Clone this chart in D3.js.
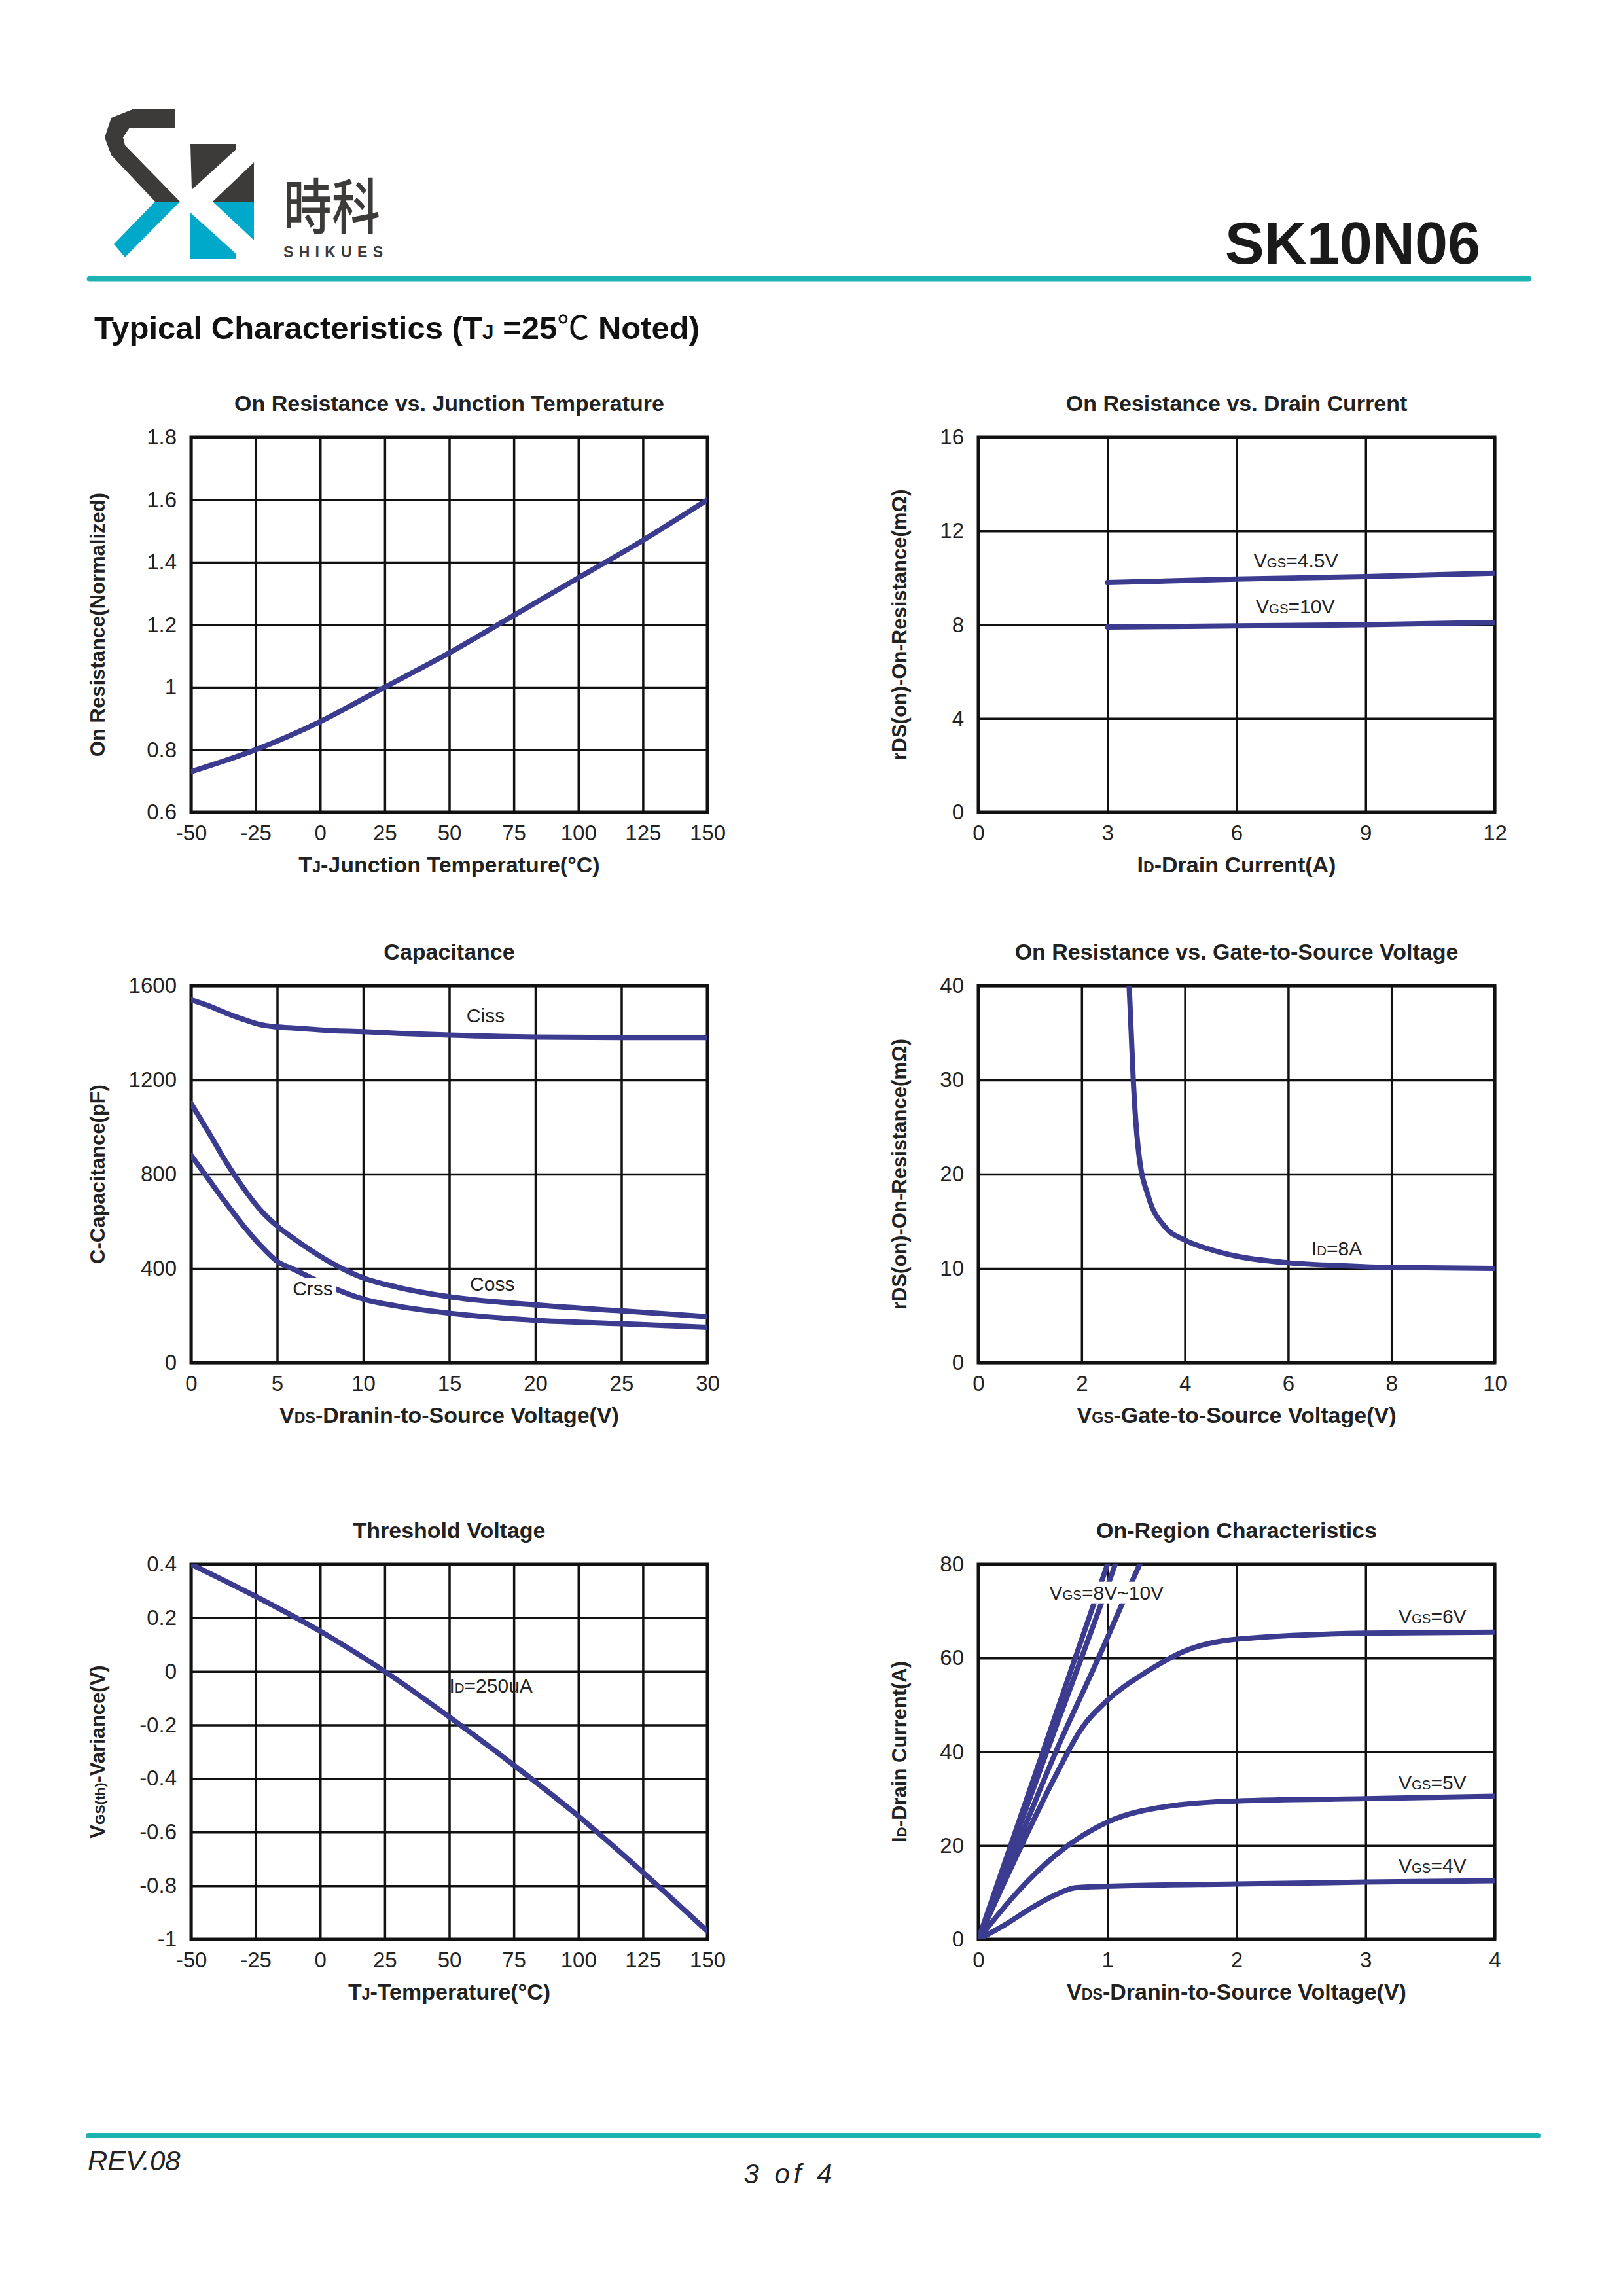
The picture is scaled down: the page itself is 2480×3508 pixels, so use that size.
<!DOCTYPE html>
<html><head><meta charset="utf-8">
<script src="https://cdn.jsdelivr.net/npm/d3@7"></script>
<style>body{margin:0;background:#fff}svg{display:block}</style>
</head><body>
<script>
// ---------- DATA ----------
const c1Temp = [-50,-25,0,25,50,75,100,125,150];
const c1Rnorm = [0.73,0.80,0.89,1.00,1.11,1.23,1.35,1.47,1.60];
const c1XTicks = [-50,-25,0,25,50,75,100,125,150];
const c1YTicks = [0.6,0.8,1,1.2,1.4,1.6,1.8];

const c2Id = [3,6,9,12];
const c2R45 = [9.8,9.95,10.05,10.2];
const c2R10 = [7.9,7.95,8.0,8.1];
const c2XTicks = [0,3,6,9,12];
const c2YTicks = [0,4,8,12,16];

const c3Vds = [0,1,2,3,4,5,6,8,10,12,15,20,25,30];
const c3Ciss = [1540,1515,1485,1458,1435,1425,1420,1410,1405,1398,1390,1382,1380,1380];
const c3Coss = [1100,980,855,745,650,580,525,430,360,320,280,245,220,195];
const c3Crss = [880,780,680,585,500,430,395,325,270,240,210,180,165,150];
const c3XTicks = [0,5,10,15,20,25,30];
const c3YTicks = [0,400,800,1200,1600];

const c4Vgs = [2.92,2.96,3.0,3.1,3.3,3.6,4.0,4.5,5,6,7,8,9,10];
const c4R = [40,35,30,22.5,17.5,14.5,13,12,11.3,10.6,10.3,10.1,10.05,10.0];
const c4XTicks = [0,2,4,6,8,10];
const c4YTicks = [0,10,20,30,40];

const c5Temp = [-50,-25,0,25,50,75,100,125,150];
const c5Dv = [0.40,0.28,0.15,0.0,-0.17,-0.35,-0.54,-0.75,-0.97];
const c5XTicks = [-50,-25,0,25,50,75,100,125,150];
const c5YTicks = [-1,-0.8,-0.6,-0.4,-0.2,0,0.2,0.4];

const c6Vds4 = [0,0.2,0.4,0.6,0.75,1,2,3,4];
const c6Id4 = [0,3,6.5,9.5,11,11.3,11.8,12.2,12.5];
const c6Vds5 = [0,0.3,0.6,0.8,1,1.5,2,3,4];
const c6Id5 = [0,10,18,22,25,28.5,29.5,30,30.5];
const c6Vds6 = [0,0.3,0.6,0.8,1,1.3,1.6,2,3,4];
const c6Id6 = [0,18,35,45,51,57,61.5,64,65.3,65.5];
const c6VdsA = [0,0.5,1.0,1.1];
const c6IdA = [0,40,80,88];
const c6VdsB = [0,0.53,1.06,1.16];
const c6IdB = [0,40,80,88];
const c6VdsC = [0,0.3,0.6,0.93,1.25,1.35];
const c6IdC = [0,20,40,60,80,86];
const c6XTicks = [0,1,2,3,4];
const c6YTicks = [0,20,40,60,80];

// ---------- PAGE ----------
const W=2480,H=3508, LINE="#3b3b8f", TXT="#222", FONT="'Liberation Sans', Arial, sans-serif";
const svg=d3.select("body").append("svg").attr("width",W).attr("height",H).attr("viewBox",`0 0 ${W} ${H}`);
svg.append("rect").attr("width",W).attr("height",H).attr("fill","#fff");

// logo
const dark="#3d3a3a", blue="#00a9c9";
const polys=[
 [dark,[[268,166],[268,195],[198,195],[188,210],[191,222],[275,308],[237,308],[170,237],[160,210],[170,180],[205,166]]],
 [blue,[[237,308],[275,308],[191,393],[174,373]]],
 [dark,[[291,220],[360,220],[361,228],[293,290]]],
 [dark,[[388,248],[388,308],[325,308]]],
 [blue,[[325,308],[388,308],[388,367]]],
 [blue,[[291,325],[361,388],[361,395],[291,395]]]
];
polys.forEach(([c,p])=>svg.append("path").attr("d",d3.line().curve(d3.curveLinearClosed)(p)).attr("fill",c));
svg.append("text").attr("x",433).attr("y",350).attr("font-family","'Noto Sans CJK SC'").attr("font-size",92).attr("font-weight",500)
  .attr("fill",dark).attr("textLength",148).attr("lengthAdjust","spacingAndGlyphs").text("時科");
svg.append("text").attr("x",433).attr("y",393).attr("font-family",FONT).attr("font-weight","bold").attr("font-size",23)
  .attr("fill",dark).attr("textLength",152).text("SHIKUES");
svg.append("text").attr("x",2262).attr("y",403).attr("text-anchor","end").attr("font-family",FONT).attr("font-weight","bold")
  .attr("font-size",90).attr("fill","#1a1a1a").text("SK10N06");
svg.append("line").attr("x1",137).attr("x2",2336).attr("y1",426).attr("y2",426).attr("stroke","#1db3b3").attr("stroke-width",9).attr("stroke-linecap","round");
const sub=svg.append("text").attr("x",144).attr("y",518).attr("font-family",FONT).attr("font-weight","bold").attr("font-size",49).attr("fill","#111");
sub.append("tspan").text("Typical Characteristics (T");
sub.append("tspan").attr("font-size",32).text("J");
sub.append("tspan").text(" =25");
sub.append("tspan").attr("font-weight","normal").attr("font-family","'Noto Sans CJK SC'").text("℃");
sub.append("tspan").text(" Noted)");

// footer
svg.append("line").attr("x1",135).attr("x2",2350).attr("y1",3263).attr("y2",3263).attr("stroke","#1db3b3").attr("stroke-width",8).attr("stroke-linecap","round");
svg.append("text").attr("x",134).attr("y",3316).attr("font-family",FONT).attr("font-style","italic").attr("font-size",42).attr("fill","#222").text("REV.08");
svg.append("text").attr("x",1207).attr("y",3336).attr("text-anchor","middle").attr("font-family",FONT).attr("font-style","italic")
  .attr("font-size",42).attr("letter-spacing",6).attr("fill","#222").text("3 of 4");

// ---------- CHART helper ----------
function addRich(sel, parts, fs){
  parts.forEach(([t,s])=>sel.append("tspan").attr("font-size",s?fs*0.68:fs).text(t));
}
let clipId=0;
function chart(cfg){
  const {x0,y0,w,h}=cfg;
  const g=svg.append("g").attr("transform",`translate(${x0},${y0})`);
  const x=d3.scaleLinear().domain(cfg.xdom).range([0,w]);
  const y=d3.scaleLinear().domain(cfg.ydom).range([h,0]);
  const fmt=cfg.fmt||(d=>d);
  const gx=g.append("g").attr("transform",`translate(0,${h})`)
    .call(d3.axisBottom(x).tickValues(cfg.xticks).tickSize(-h).tickPadding(20).tickFormat(fmt));
  const gy=g.append("g").call(d3.axisLeft(y).tickValues(cfg.yticks).tickSize(-w).tickPadding(22).tickFormat(cfg.yfmt||fmt));
  [gx,gy].forEach(a=>{a.select(".domain").remove();
    a.selectAll("line").attr("stroke","#111").attr("stroke-width",3.5);
    a.selectAll("text").attr("font-family",FONT).attr("font-size",33).attr("fill",TXT);});
  g.append("rect").attr("width",w).attr("height",h).attr("fill","none").attr("stroke","#111").attr("stroke-width",5);
  const id="clip"+(clipId++);
  g.append("clipPath").attr("id",id).append("rect").attr("width",w).attr("height",h);
  const pg=g.append("g").attr("clip-path",`url(#${id})`);
  cfg.series.forEach(s=>{
    const pts=s.xs.map((v,i)=>[v,s.ys[i]]);
    pg.append("path").attr("d",d3.line().x(d=>x(d[0])).y(d=>y(d[1])).curve(s.curve||d3.curveMonotoneX)(pts))
      .attr("fill","none").attr("stroke",LINE).attr("stroke-width",8).attr("stroke-linecap","round");
  });
  (cfg.labels||[]).forEach(l=>{
    const t=g.append("text").attr("x",x(l.x)).attr("y",y(l.y)).attr("text-anchor",l.anchor||"start")
      .attr("font-family",FONT).attr("font-size",30).attr("fill",TXT);
    addRich(t,l.parts,30);
    if(l.bg){const b=t.node().getBBox();
      g.insert("rect",()=>t.node()).attr("x",b.x-5).attr("y",b.y).attr("width",b.width+10).attr("height",b.height).attr("fill","#fff");}
  });
  g.append("text").attr("x",w/2).attr("y",-40).attr("text-anchor","middle").attr("font-family",FONT).attr("font-weight","bold")
    .attr("font-size",34).attr("fill",TXT).text(cfg.title);
  const xl=g.append("text").attr("x",w/2).attr("y",h+92).attr("text-anchor","middle").attr("font-family",FONT).attr("font-weight","bold").attr("fill",TXT);
  addRich(xl,cfg.xlabel,34);
  const yl=g.append("text").attr("transform",`translate(${cfg.ylx},${h/2}) rotate(-90)`).attr("text-anchor","middle")
    .attr("font-family",FONT).attr("font-weight","bold").attr("fill",TXT);
  addRich(yl,cfg.ylabel,31);
}

const L=292,R=1495,PW=789, R1=668,R2=1506,R3=2390, PH1=573,PH2=576,PH3=573;

chart({x0:L,y0:R1,w:PW,h:PH1,xdom:[-50,150],ydom:[0.6,1.8],xticks:c1XTicks,yticks:c1YTicks,
  title:"On Resistance vs. Junction Temperature",xlabel:[["T",""],["J",1],["-Junction Temperature(°C)",""]],
  ylabel:[["On Resistance(Normalized)",""]],ylx:-132,
  series:[{xs:c1Temp,ys:c1Rnorm}]});

chart({x0:R,y0:R1,w:PW,h:PH1,xdom:[0,12],ydom:[0,16],xticks:c2XTicks,yticks:c2YTicks,
  title:"On Resistance vs. Drain Current",xlabel:[["I",""],["D",1],["-Drain Current(A)",""]],
  ylabel:[["rDS(on)-On-Resistance(mΩ)",""]],ylx:-110,
  series:[{xs:c2Id,ys:c2R45},{xs:c2Id,ys:c2R10}],
  labels:[{x:6.4,y:10.45,parts:[["V",""],["GS",1],["=4.5V",""]]},{x:6.45,y:8.5,parts:[["V",""],["GS",1],["=10V",""]]}]});

chart({x0:L,y0:R2,w:PW,h:PH2,xdom:[0,30],ydom:[0,1600],xticks:c3XTicks,yticks:c3YTicks,
  title:"Capacitance",xlabel:[["V",""],["DS",1],["-Dranin-to-Source Voltage(V)",""]],
  ylabel:[["C-Capacitance(pF)",""]],ylx:-132,
  series:[{xs:c3Vds,ys:c3Ciss},{xs:c3Vds,ys:c3Coss},{xs:c3Vds,ys:c3Crss}],
  labels:[{x:16,y:1445,parts:[["Ciss",""]]},{x:16.2,y:305,parts:[["Coss",""]]},{x:5.9,y:285,parts:[["Crss",""]],bg:true}]});

chart({x0:R,y0:R2,w:PW,h:PH2,xdom:[0,10],ydom:[0,40],xticks:c4XTicks,yticks:c4YTicks,
  title:"On Resistance vs. Gate-to-Source Voltage",xlabel:[["V",""],["GS",1],["-Gate-to-Source Voltage(V)",""]],
  ylabel:[["rDS(on)-On-Resistance(mΩ)",""]],ylx:-110,
  series:[{xs:c4Vgs,ys:c4R}],
  labels:[{x:6.45,y:11.4,parts:[["I",""],["D",1],["=8A",""]]}]});

chart({x0:L,y0:R3,w:PW,h:PH3,xdom:[-50,150],ydom:[-1,0.4],xticks:c5XTicks,yticks:c5YTicks,
  title:"Threshold Voltage",xlabel:[["T",""],["J",1],["-Temperature(°C)",""]],
  ylabel:[["V",""],["GS(th)",1],["-Variance(V)",""]],ylx:-132,
  series:[{xs:c5Temp,ys:c5Dv}],
  labels:[{x:50,y:-0.08,parts:[["I",""],["D",1],["=250uA",""]]}]});

chart({x0:R,y0:R3,w:PW,h:PH3,xdom:[0,4],ydom:[0,80],xticks:c6XTicks,yticks:c6YTicks,
  title:"On-Region Characteristics",xlabel:[["V",""],["DS",1],["-Dranin-to-Source Voltage(V)",""]],
  ylabel:[["I",""],["D",1],["-Drain Current(A)",""]],ylx:-110,
  series:[{xs:c6Vds4,ys:c6Id4},{xs:c6Vds5,ys:c6Id5},{xs:c6Vds6,ys:c6Id6},
          {xs:c6VdsA,ys:c6IdA},{xs:c6VdsB,ys:c6IdB},{xs:c6VdsC,ys:c6IdC}],
  labels:[{x:0.55,y:72.5,parts:[["V",""],["GS",1],["=8V~10V",""]],bg:true},
          {x:3.78,y:67.5,anchor:"end",parts:[["V",""],["GS",1],["=6V",""]]},
          {x:3.78,y:32,anchor:"end",parts:[["V",""],["GS",1],["=5V",""]]},
          {x:3.78,y:14.3,anchor:"end",parts:[["V",""],["GS",1],["=4V",""]]}]});
</script>
</body></html>
